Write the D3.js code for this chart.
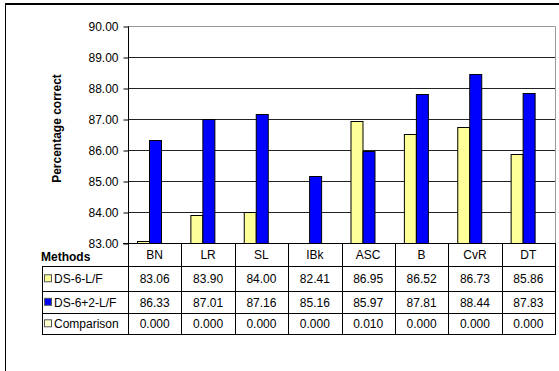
<!DOCTYPE html>
<html>
<head>
<meta charset="utf-8">
<script src="https://cdn.jsdelivr.net/npm/d3@7"></script>
<style>
  html, body { margin: 0; padding: 0; background: #fff; }
  svg text { font-family: "Liberation Sans", Arial, sans-serif; fill: #000; }
</style>
</head>
<body>
<svg id="chart" width="559" height="371"></svg>
<script>
// Methods compared and the three result series
const methods = ["BN", "LR", "SL", "IBk", "ASC", "B", "CvR", "DT"];
const seriesNames = ["DS-6-L/F", "DS-6+2-L/F", "Comparison"];
const ds6 = [83.06, 83.90, 84.00, 82.41, 86.95, 86.52, 86.73, 85.86];
const ds62 = [86.33, 87.01, 87.16, 85.16, 85.97, 87.81, 88.44, 87.83];
const comparison = [0.000, 0.000, 0.000, 0.000, 0.010, 0.000, 0.000, 0.000];
const yTicks = [83, 84, 85, 86, 87, 88, 89, 90];

const seriesValues = [ds6, ds62, comparison];
const seriesFill = ["#FFFF99", "#0000FF", "#FFFFCC"];
const seriesFormat = [d3.format(".2f"), d3.format(".2f"), d3.format(".3f")];

const svg = d3.select("#chart");

// Outer chart frame
svg.append("line").attr("x1", 5).attr("x2", 559).attr("y1", 4).attr("y2", 4)
  .attr("stroke", "#000").attr("stroke-width", 2);
svg.append("line").attr("x1", 5.5).attr("x2", 5.5).attr("y1", 3).attr("y2", 371)
  .attr("stroke", "#000").attr("stroke-width", 1);

const plot = { left: 128, right: 555, top: 26, bottom: 243 };

const x0 = d3.scaleBand().domain(methods).range([plot.left, plot.right]).padding(0);
const bw = x0.bandwidth();
const x1 = d3.scaleBand().domain(seriesNames).range([bw * 0.163, bw * 0.837]).padding(0);
const y = d3.scaleLinear().domain([83, 90]).range([plot.bottom, plot.top]);

// Gridlines
svg.append("g").selectAll("line").data(yTicks.slice(1, -1)).join("line")
  .attr("x1", plot.left).attr("x2", plot.right)
  .attr("y1", d => Math.round(y(d)) + 0.5).attr("y2", d => Math.round(y(d)) + 0.5)
  .attr("stroke", "#222").attr("stroke-width", 1);

// Plot-area border (top and right)
svg.append("path")
  .attr("d", `M${plot.left},${plot.top + 0.5}H${plot.right + 0.5}V${plot.bottom}`)
  .attr("fill", "none").attr("stroke", "#999").attr("stroke-width", 1);

// Bars; values under the axis minimum stay hidden
const rows = methods.map((m, i) => ({ m, vals: seriesNames.map((s, k) => ({ s, k, v: seriesValues[k][i] })) }));
svg.append("g").selectAll("g").data(rows).join("g")
  .attr("transform", d => `translate(${x0(d.m)},0)`)
  .selectAll("rect").data(d => d.vals.filter(e => e.v > y.domain()[0])).join("rect")
  .attr("x", d => Math.round(x1(d.s)) + 0.5)
  .attr("width", x1.bandwidth())
  .attr("y", d => Math.round(y(d.v)) + 0.5)
  .attr("height", d => Math.max(0, plot.bottom - Math.round(y(d.v))))
  .attr("fill", d => seriesFill[d.k])
  .attr("stroke", "#000").attr("stroke-width", 1);

// Y axis
const yAxis = d3.axisLeft(y).tickValues(yTicks).tickFormat(d3.format(".2f"))
  .tickSize(5).tickPadding(5);
const ga = svg.append("g").attr("transform", `translate(${plot.left + 0.5},0.5)`).call(yAxis);
ga.select(".domain").attr("d", `M0,${plot.top}V${plot.bottom}`).attr("stroke", "#000");
ga.selectAll(".tick line").attr("stroke", "#000");
ga.selectAll("text").attr("font-size", 12).attr("font-family", "Liberation Sans, Arial, sans-serif");

svg.append("text")
  .attr("transform", `translate(61,${(plot.top + plot.bottom) / 2 - 6}) rotate(-90)`)
  .attr("text-anchor", "middle").attr("font-size", 12).attr("font-weight", "bold")
  .text("Percentage correct");

// Data table under the axis
const table = { left: 42.5, rowLines: [243, 266, 291, 313, 334] };
const tg = svg.append("g");

// x-axis baseline spanning header row top
tg.append("line").attr("x1", plot.left - 5).attr("x2", plot.right + 0.5)
  .attr("y1", plot.bottom + 0.5).attr("y2", plot.bottom + 0.5).attr("stroke", "#000");

// horizontal table rules
tg.selectAll("line.h").data(table.rowLines.slice(1)).join("line").attr("class", "h")
  .attr("x1", table.left).attr("x2", plot.right + 0.5)
  .attr("y1", d => d + 0.5).attr("y2", d => d + 0.5).attr("stroke", "#000");

// vertical rules at category boundaries
const colEdges = methods.map(m => x0(m)).concat([plot.right]);
tg.selectAll("line.v").data(colEdges).join("line").attr("class", "v")
  .attr("x1", d => Math.round(d) + 0.5).attr("x2", d => Math.round(d) + 0.5)
  .attr("y1", plot.bottom).attr("y2", table.rowLines[4] + 1).attr("stroke", "#000");
tg.append("line").attr("x1", table.left).attr("x2", table.left)
  .attr("y1", table.rowLines[1]).attr("y2", table.rowLines[4] + 1).attr("stroke", "#000");

// header row: method names
tg.selectAll("text.cat").data(methods).join("text").attr("class", "cat")
  .attr("x", d => x0(d) + bw / 2)
  .attr("y", (table.rowLines[0] + table.rowLines[1]) / 2 + 4.5)
  .attr("text-anchor", "middle").attr("font-size", 12)
  .text(d => d);

tg.append("text").attr("x", 41).attr("y", 261)
  .attr("font-size", 12).attr("font-weight", "bold").text("Methods");

// series rows: legend key, name, values
seriesNames.forEach((s, k) => {
  const top = table.rowLines[k + 1], bot = table.rowLines[k + 2];
  const base = (top + bot) / 2 + 4.8;
  tg.append("rect").attr("x", 44.5).attr("y", base - 8.5).attr("width", 7).attr("height", 7)
    .attr("fill", seriesFill[k]).attr("stroke", "#555").attr("stroke-width", 1);
  tg.append("text").attr("x", 54).attr("y", base).attr("font-size", 12).text(s);
  tg.selectAll(`text.v${k}`).data(seriesValues[k]).join("text").attr("class", `v${k}`)
    .attr("x", (d, i) => x0(methods[i]) + bw / 2)
    .attr("y", base).attr("text-anchor", "middle").attr("font-size", 12)
    .text(d => seriesFormat[k](d));
});
</script>
</body>
</html>
